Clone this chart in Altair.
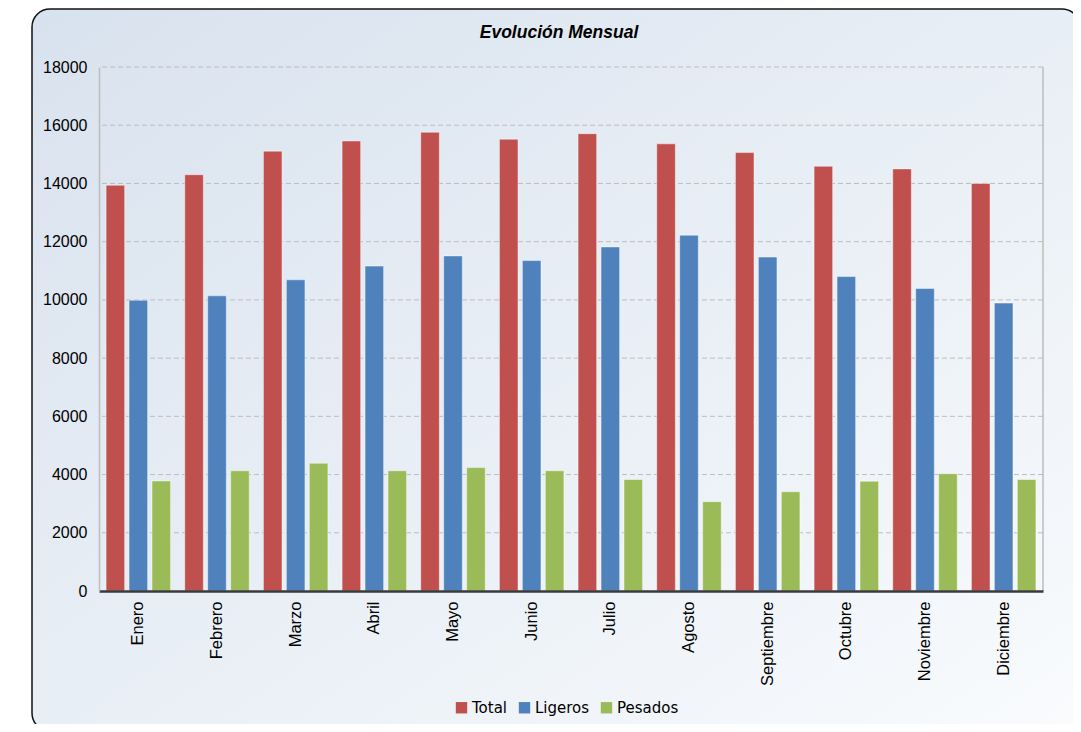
import altair as alt
import pandas as pd

meses = ["Enero", "Febrero", "Marzo", "Abril", "Mayo", "Junio", "Julio",
         "Agosto", "Septiembre", "Octubre", "Noviembre", "Diciembre"]
series = ["Total", "Ligeros", "Pesados"]
total = [13940, 14300, 15110, 15460, 15760, 15520, 15710, 15360, 15060, 14590, 14500, 14000]
ligeros = [9990, 10140, 10690, 11160, 11510, 11350, 11820, 12220, 11470, 10800, 10390, 9890]
pesados = [3780, 4130, 4390, 4130, 4240, 4130, 3830, 3070, 3410, 3770, 4030, 3830]
colores = ["#C0504D", "#4F81BD", "#9BBB59"]
y_ticks = [0, 2000, 4000, 6000, 8000, 10000, 12000, 14000, 16000, 18000]
titulo = ["Evolución Mensual"]

rows = []
for name, vals in zip(series, [total, ligeros, pesados]):
    for m, v in zip(meses, vals):
        rows.append({"mes": m, "serie": name, "valor": v})
df = pd.DataFrame(rows)
grid_df = pd.DataFrame({"v": y_ticks[1:]})

W, H = 944, 524

y_axis = alt.Axis(title=None, values=y_ticks, format="d", grid=False, ticks=False,
                  labelFont="Liberation Sans", labelFontSize=16,
                  labelColor="#000000", labelPadding=12,
                  domainColor="#bdbdbd", domainWidth=1.5, zindex=1)
y_scale = alt.Scale(domain=[0, 18000], nice=False)

frame = alt.Chart(pd.DataFrame({"a": [0]})).mark_rect(
    fill=alt.Gradient(
        gradient="linear",
        stops=[alt.GradientStop(color="#d8e2ee", offset=0),
               alt.GradientStop(color="#f9fbfd", offset=1)],
        x1=0, y1=0, x2=1, y2=1,
    ),
    stroke="#111111", strokeWidth=1.5, cornerRadius=18,
).encode(
    x=alt.value(-67), x2=alt.value(981), y=alt.value(-58), y2=alt.value(664)
)

title_mark = alt.Chart(pd.DataFrame({"t": titulo})).mark_text(
    font="Liberation Sans", fontSize=17.5, fontWeight="bold", fontStyle="italic",
    color="#000000", align="center", baseline="alphabetic",
).encode(text="t:N", x=alt.value(460), y=alt.value(-29))

grid = alt.Chart(grid_df).mark_rule(
    color="#bdbdbd", strokeDash=[5, 3], strokeWidth=1
).encode(y=alt.Y("v:Q", scale=y_scale, axis=y_axis))

right_edge = alt.Chart(pd.DataFrame({"a": [0]})).mark_rule(
    color="#bdbdbd", strokeWidth=1.5
).encode(x=alt.value(W), y=alt.value(0), y2=alt.value(H))

bars = alt.Chart(df).mark_bar(
    stroke="white", strokeOpacity=0.45, strokeWidth=1
).encode(
    x=alt.X("mes:N", sort=meses,
            scale=alt.Scale(paddingInner=0.18, paddingOuter=0.09),
            axis=alt.Axis(title=None, labelAngle=270, labelFont="Liberation Sans",
                          labelFontSize=16.5, labelColor="#000000", ticks=False,
                          labelPadding=10, domainColor="#3a3a3a", domainWidth=2.5,
                          zindex=1)),
    xOffset=alt.XOffset("serie:N", sort=series,
                        scale=alt.Scale(paddingInner=0.19, paddingOuter=0)),
    y=alt.Y("valor:Q", scale=y_scale, axis=y_axis),
    color=alt.Color("serie:N", sort=series,
                    scale=alt.Scale(domain=series, range=colores),
                    legend=alt.Legend(title=None, orient="none", direction="horizontal",
                                      legendX=355, legendY=633, symbolType="square",
                                      symbolSize=130, symbolStrokeWidth=0,
                                      symbolOpacity=1,
                                      labelFont="DejaVu Sans", labelFontSize=15,
                                      labelColor="#000000", labelOffset=3,
                                      columnPadding=9, padding=0)),
)

chart = alt.layer(frame, title_mark, grid, right_edge, bars).properties(
    width=W, height=H,
    padding={"left": 91, "top": 59, "right": 30, "bottom": 133},
    autosize=alt.AutoSizeParams(type="none"),
    background="white",
).configure_view(stroke=None)

chart.save("out.html", embed_options={"renderer": "svg", "actions": False})
